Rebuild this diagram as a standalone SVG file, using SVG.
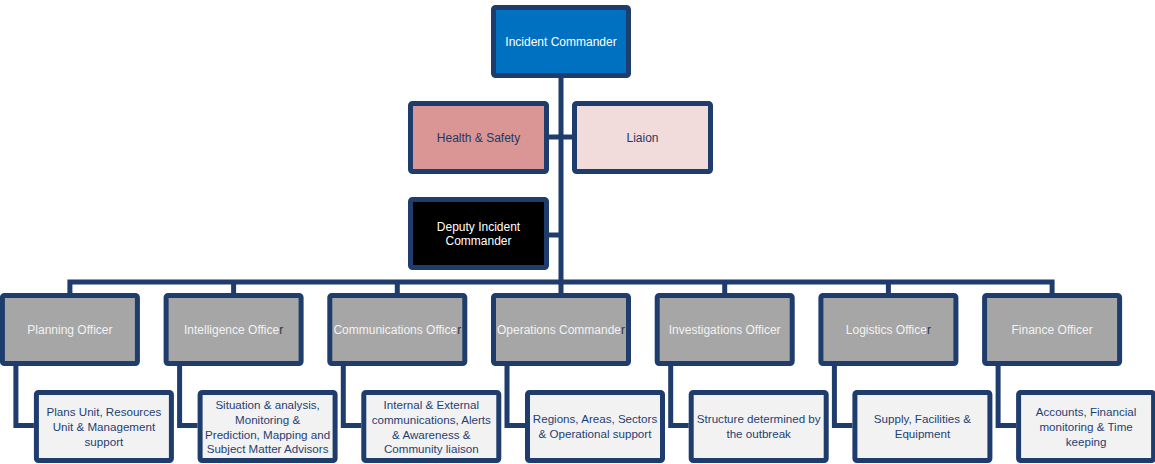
<svg xmlns="http://www.w3.org/2000/svg" width="1155" height="464" viewBox="0 0 1155 464">
  <style>
    .box { stroke: #1E3D6C; stroke-width: 5; }
    .lead { fill: #0070C0; }
    .hs { fill: #D99694; }
    .li { fill: #F2DCDB; }
    .dep { fill: #000000; }
    .off { fill: #A6A6A6; }
    .sub { fill: #F2F2F2; }
    .conn { fill: none; stroke: #1E3D6C; stroke-width: 5; stroke-linejoin: miter; }
    text { font-family: "Liberation Sans", Arial, sans-serif; text-anchor: middle; dominant-baseline: central; }
    .tw { fill: #FFFFFF; font-size: 12px; }
    .tg { fill: #F2F2F2; font-size: 12px; }
    .tn { fill: #1F3864; font-size: 12px; }
    .ts { fill: #1F3F73; font-size: 11.6px; }
    .dk { fill: #1F3864; }
  </style>

  <!-- connectors -->
  <g id="connectors" class="conn">
    <!-- main trunk -->
    <path d="M561 78 V293"/>
    <!-- health & safety / liaison -->
    <path d="M549 137 H572"/>
    <!-- deputy -->
    <path d="M549 235 H561"/>
    <!-- officer bar and drops -->
    <path d="M69.9 293 V282 H1052.1 V293"/>
    <path d="M233.6 282 V293"/>
    <path d="M397.3 282 V293"/>
    <path d="M724.7 282 V293"/>
    <path d="M888.4 282 V293"/>
    <!-- elbows to unit boxes -->
    <path d="M15.9 366 V425.5 H33.9"/>
    <path d="M179.6 366 V425.5 H197.6"/>
    <path d="M343.3 366 V425.5 H361.3"/>
    <path d="M507 366 V425.5 H525"/>
    <path d="M670.7 366 V425.5 H688.7"/>
    <path d="M834.4 366 V425.5 H852.4"/>
    <path d="M998.1 366 V425.5 H1016.1"/>
  </g>

  <g id="incident-commander">
    <rect class="box lead" x="493.5" y="7.5" width="135" height="68" rx="2"/>
    <text class="tw" x="561" y="42">Incident Commander</text>
  </g>

  <g id="health-safety">
    <rect class="box hs" x="410.5" y="103.5" width="136" height="68" rx="2"/>
    <text class="tn" x="478.5" y="137.5">Health &amp; Safety</text>
  </g>

  <g id="liaison">
    <rect class="box li" x="574.5" y="103.5" width="136" height="68" rx="2"/>
    <text class="tn" x="642.5" y="137.5">Liaion</text>
  </g>

  <g id="deputy-incident-commander">
    <rect class="box dep" x="410.5" y="199.5" width="136" height="68" rx="2"/>
    <text class="tw" x="478.5" y="227">Deputy Incident</text>
    <text class="tw" x="478.5" y="241">Commander</text>
  </g>

  <g id="planning-officer">
    <rect class="box off" x="2.4" y="295.5" width="135" height="68" rx="2"/>
    <text class="tg" x="69.9" y="330">Planning Officer</text>
  </g>
  <g id="intelligence-officer">
    <rect class="box off" x="166.1" y="295.5" width="135" height="68" rx="2"/>
    <text class="tg" x="233.6" y="330">Intelligence Office<tspan class="dk">r</tspan></text>
  </g>
  <g id="communications-officer">
    <rect class="box off" x="329.8" y="295.5" width="135" height="68" rx="2"/>
    <text class="tg" x="397.3" y="330">Communications Office<tspan class="dk">r</tspan></text>
  </g>
  <g id="operations-commander">
    <rect class="box off" x="493.5" y="295.5" width="135" height="68" rx="2"/>
    <text class="tg" x="561" y="330">Operations Commande<tspan class="dk">r</tspan></text>
  </g>
  <g id="investigations-officer">
    <rect class="box off" x="657.2" y="295.5" width="135" height="68" rx="2"/>
    <text class="tg" x="724.7" y="330">Investigations Officer</text>
  </g>
  <g id="logistics-officer">
    <rect class="box off" x="820.9" y="295.5" width="135" height="68" rx="2"/>
    <text class="tg" x="888.4" y="330">Logistics Office<tspan class="dk">r</tspan></text>
  </g>
  <g id="finance-officer">
    <rect class="box off" x="984.6" y="295.5" width="135" height="68" rx="2"/>
    <text class="tg" x="1052.1" y="330">Finance Officer</text>
  </g>

  <g id="planning-units">
    <rect class="box sub" x="36.4" y="392.5" width="135" height="68" rx="2"/>
    <text class="ts" x="103.9" y="411">Plans Unit, Resources</text>
    <text class="ts" x="103.9" y="426">Unit &amp; Management</text>
    <text class="ts" x="103.9" y="441">support</text>
  </g>
  <g id="intelligence-units">
    <rect class="box sub" x="200.1" y="392.5" width="135" height="68" rx="2"/>
    <text class="ts" x="267.6" y="404">Situation &amp; analysis,</text>
    <text class="ts" x="267.6" y="419">Monitoring &amp;</text>
    <text class="ts" x="267.6" y="434">Prediction, Mapping and</text>
    <text class="ts" x="267.6" y="448.5">Subject Matter Advisors</text>
  </g>
  <g id="communications-units">
    <rect class="box sub" x="363.8" y="392.5" width="135" height="68" rx="2"/>
    <text class="ts" x="431.3" y="404">Internal &amp; External</text>
    <text class="ts" x="431.3" y="419">communications, Alerts</text>
    <text class="ts" x="431.3" y="434">&amp; Awareness &amp;</text>
    <text class="ts" x="431.3" y="448.5">Community liaison</text>
  </g>
  <g id="operations-units">
    <rect class="box sub" x="527.5" y="392.5" width="135" height="68" rx="2"/>
    <text class="ts" x="595" y="418.5">Regions, Areas, Sectors</text>
    <text class="ts" x="595" y="433">&amp; Operational support</text>
  </g>
  <g id="investigations-units">
    <rect class="box sub" x="691.2" y="392.5" width="135" height="68" rx="2"/>
    <text class="ts" x="758.7" y="418.5">Structure determined by</text>
    <text class="ts" x="758.7" y="433">the outbreak</text>
  </g>
  <g id="logistics-units">
    <rect class="box sub" x="854.9" y="392.5" width="135" height="68" rx="2"/>
    <text class="ts" x="922.4" y="418.5">Supply, Facilities &amp;</text>
    <text class="ts" x="922.4" y="433">Equipment</text>
  </g>
  <g id="finance-units">
    <rect class="box sub" x="1018.6" y="392.5" width="135" height="68" rx="2"/>
    <text class="ts" x="1086.1" y="411">Accounts, Financial</text>
    <text class="ts" x="1086.1" y="426">monitoring &amp; Time</text>
    <text class="ts" x="1086.1" y="441">keeping</text>
  </g>
</svg>
